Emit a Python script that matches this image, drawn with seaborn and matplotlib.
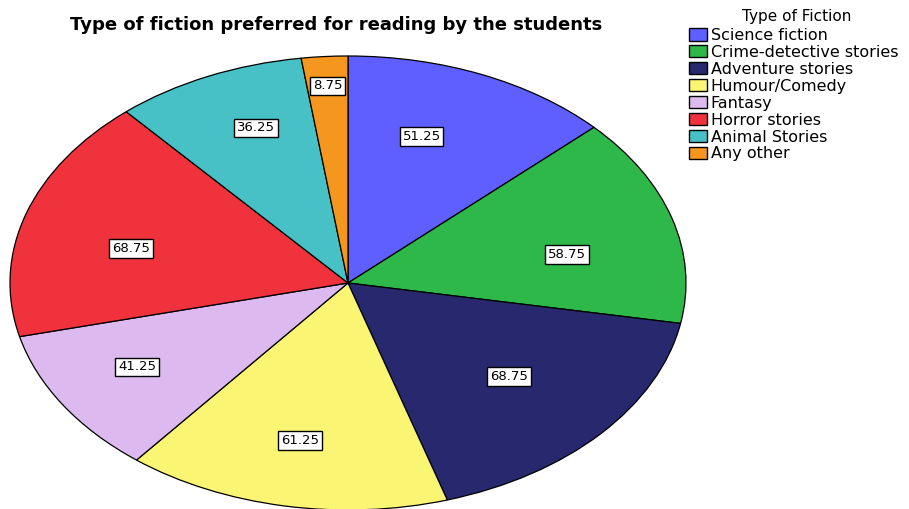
import numpy as np
import matplotlib
matplotlib.use("Agg")
import matplotlib.pyplot as plt
import matplotlib.patches as mpatches
import seaborn as sns

sns.set_style("white")
plt.rcParams['font.family'] = ['DejaVu Sans']
plt.rcParams['text.color'] = 'black'

categories = ["Science fiction", "Crime-detective stories", "Adventure stories",
              "Humour/Comedy", "Fantasy", "Horror stories", "Animal Stories", "Any other"]
values = [51.25, 58.75, 68.75, 61.25, 41.25, 68.75, 36.25, 8.75]
value_labels = ["51.25", "58.75", "68.75", "61.25", "41.25", "68.75", "36.25", "8.75"]
colors = ["#5f5fff", "#2fb84a", "#28286e", "#faf673", "#dcbaf0", "#f0323c", "#47c0c6", "#f5961e"]
label_radii = [0.68, 0.66, 0.63, 0.71, 0.725, 0.66, 0.735, 0.87]
label_angle_shift = [-4.7, 5.4, -0.6, 0.8, 1.8, -4.2, 2.8, 0.0]

fig = plt.figure(figsize=(9.09, 5.09), dpi=100)
ax = fig.add_axes([10/909, -1/509, 676/909, 454/509])
wedges, _ = ax.pie(values, colors=colors, startangle=90, counterclock=False,
                   wedgeprops=dict(edgecolor="black", linewidth=0.9))
ax.set_aspect("auto")
ax.set_xlim(-1, 1)
ax.set_ylim(-1, 1)
ax.axis("off")

total = sum(values)
cum = 0.0
for v, lab, r, sh in zip(values, value_labels, label_radii, label_angle_shift):
    mid = np.deg2rad((cum + v / 2) / total * 360 + sh)
    cum += v
    ax.text(r * np.sin(mid), r * np.cos(mid), lab, ha="center", va="center",
            fontsize=9.5, color="black",
            bbox=dict(boxstyle="square,pad=0.22", fc="white", ec="black", lw=1))

fig.text(336/909, 1 - 25/509, "Type of fiction preferred for reading by the students",
         ha="center", va="center", fontsize=13, fontweight="bold", color="black")

fig.text(797/909, 1 - 17/509, "Type of Fiction", ha="center", va="center",
         fontsize=11, color="black")

handles = [mpatches.Patch(facecolor=c, edgecolor="black", linewidth=1) for c in colors]
leg = fig.legend(handles, categories, loc="upper left",
                 bbox_to_anchor=(689/909, 1 - 28/509), frameon=False, fontsize=11.5,
                 handlelength=1.15, handleheight=0.8,
                 handletextpad=0.2, labelspacing=0.12, borderpad=0, borderaxespad=0)
for t in leg.get_texts():
    t.set_color("black")

fig.savefig("out.png", dpi=100)
